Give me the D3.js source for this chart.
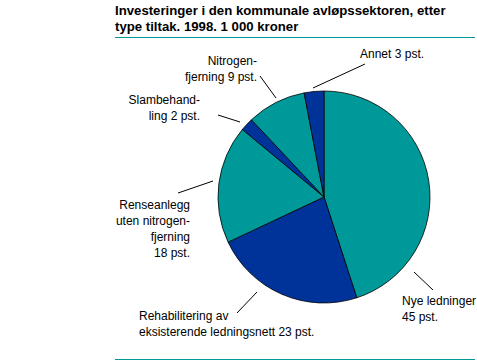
<!DOCTYPE html>
<html>
<head>
<meta charset="utf-8">
<script src="https://cdn.jsdelivr.net/npm/d3@7"></script>
<style>
  body { margin: 0; background: #fff; }
  svg text { font-family: "Liberation Sans", Arial, sans-serif; fill: #000; }
</style>
</head>
<body>
<svg id="chart" width="477" height="361"></svg>
<script>
/* ------------------------------- data -------------------------------- */
const categories = ['Nye ledninger', 'Rehabilitering', 'Renseanlegg', 'Slambehandling', 'Nitrogenfjerning', 'Annet'];
const shares     = [45, 23, 18, 2, 9, 3];
const labelLines = [
  ['Nye ledninger', '45 pst.'],
  ['Rehabilitering av', 'eksisterende ledningsnett  23 pst.'],
  ['Renseanlegg', 'uten nitrogen-', 'fjerning', '18 pst.'],
  ['Slambehand-', 'ling 2 pst.'],
  ['Nitrogen-', 'fjerning 9 pst.'],
  ['Annet 3 pst.']
];
const titleLines = ['Investeringer i den kommunale avløpssektoren, etter', 'type tiltak. 1998. 1 000 kroner'];

/* ------------------------------- layout ------------------------------ */
const svg = d3.select('#chart');
const CX = 324, CY = 197, R = 106;
const colors = ['#009999', '#003399'];
// label anchor, text alignment and leader line end points (relative to pie centre)
const layout = [
  {x: 402, y: 305, anchor: 'start', l: [[90, 75], [109, 93]]},
  {x: 139, y: 320, anchor: 'start', l: [[-67, 95], [-87, 116]]},
  {x: 190, y: 209, anchor: 'end',   l: [[-111, -16], [-146, -4]]},
  {x: 200, y: 104, anchor: 'end',   l: [[-84, -75], [-106, -82]]},
  {x: 257, y: 65,  anchor: 'end',   l: [[-48, -99], [-64, -121]]},
  {x: 360, y: 58,  anchor: 'start', l: [[-11, -109], [41, -133]]}
];

/* ------------------------------- title ------------------------------- */
svg.selectAll('text.title')
  .data(titleLines)
  .enter().append('text')
  .attr('class', 'title')
  .attr('x', 115)
  .attr('y', (d, i) => 15 + i * 16)
  .attr('font-size', '13.2px')
  .attr('font-weight', 'bold')
  .text(d => d);

svg.append('line').attr('x1', 115).attr('x2', 475).attr('y1', 37.5).attr('y2', 37.5)
  .attr('stroke', '#009999').attr('stroke-width', 1);
svg.append('line').attr('x1', 115).attr('x2', 475).attr('y1', 359.5).attr('y2', 359.5)
  .attr('stroke', '#009999').attr('stroke-width', 1);

/* ------------------------------- pie --------------------------------- */
const pie = d3.pie().sort(null).value(d => d);
const arc = d3.arc().innerRadius(0).outerRadius(R);
const pieG = svg.append('g').attr('transform', `translate(${CX},${CY})`);

pieG.selectAll('path')
  .data(pie(shares))
  .enter().append('path')
  .attr('d', arc)
  .attr('fill', (d, i) => colors[i % 2])
  .attr('stroke', '#000')
  .attr('stroke-width', 0.8);

/* ------------------------------- labels ------------------------------ */
layout.forEach((p, i) => {
  pieG.append('line')
    .attr('x1', p.l[0][0]).attr('y1', p.l[0][1])
    .attr('x2', p.l[1][0]).attr('y2', p.l[1][1])
    .attr('stroke', '#000').attr('stroke-width', 1);

  svg.append('text')
    .attr('x', p.x)
    .attr('y', p.y)
    .attr('text-anchor', p.anchor)
    .attr('font-size', '12px')
    .selectAll('tspan')
    .data(labelLines[i])
    .enter().append('tspan')
    .attr('x', p.x)
    .attr('dy', (d, j) => j === 0 ? 0 : 16)
    .text(d => d);
});
</script>
</body>
</html>
